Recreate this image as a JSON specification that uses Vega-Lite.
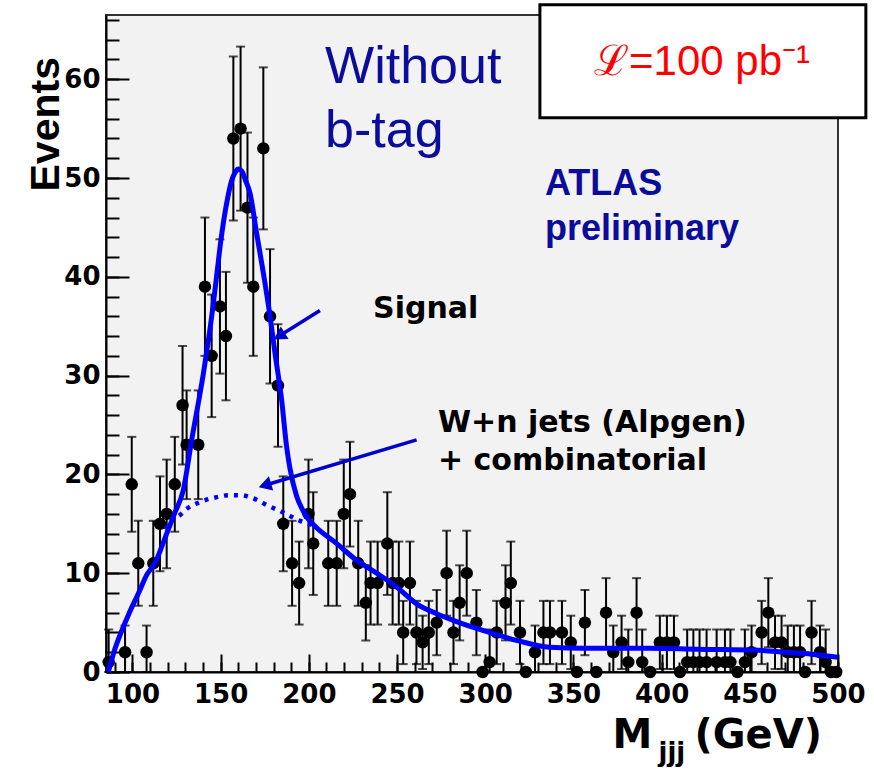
{
  "$schema": "https://vega.github.io/schema/vega-lite/v6.json",
  "width": 732,
  "height": 657,
  "autosize": {"type": "none"},
  "padding": {"left": 106, "top": 15, "right": 36, "bottom": 101},
  "config": {"background": "white", "view": {"fill": "#f2f2f2", "stroke": "#333333", "strokeWidth": 2}},
  "datasets": {
    "pts": [
      {"m":86.5,"n":1,"lo":0,"hi":4.3},{"m":95.8,"n":2,"lo":0,"hi":4.7},{"m":99.6,"n":19,"lo":14.2,"hi":23.8},
      {"m":103.3,"n":11,"lo":6.7,"hi":15.3},{"m":108,"n":2,"lo":0,"hi":4.7},{"m":111.8,"n":11,"lo":6.7,"hi":15.3},
      {"m":115.6,"n":15,"lo":10.2,"hi":19.8},{"m":119.4,"n":16,"lo":10.5,"hi":21.5},{"m":124,"n":19,"lo":14.2,"hi":23.8},
      {"m":128.4,"n":27,"lo":21,"hi":33},{"m":130.7,"n":23,"lo":17.5,"hi":28.5},{"m":137.3,"n":23,"lo":17.5,"hi":28.5},
      {"m":141.1,"n":39,"lo":32,"hi":46},{"m":144.9,"n":32,"lo":25.8,"hi":38.2},{"m":149.6,"n":37,"lo":30.2,"hi":43.8},
      {"m":153,"n":34,"lo":27.5,"hi":40.5},{"m":157.2,"n":54,"lo":45.7,"hi":62.3},{"m":161.3,"n":55,"lo":46.7,"hi":63.3},
      {"m":165.2,"n":47,"lo":39.4,"hi":54.6},{"m":168.5,"n":39,"lo":32,"hi":46},{"m":174.2,"n":53,"lo":44.8,"hi":61.2},
      {"m":178,"n":36,"lo":29.2,"hi":42.8},{"m":182.5,"n":29,"lo":22.8,"hi":35.2},{"m":185.5,"n":15,"lo":10.2,"hi":19.8},
      {"m":190.5,"n":11,"lo":6.7,"hi":15.3},{"m":194.5,"n":9,"lo":4.8,"hi":13.2},{"m":199.8,"n":16,"lo":10.5,"hi":21.5},
      {"m":202.5,"n":13,"lo":7.8,"hi":18.2},{"m":211,"n":11,"lo":6.7,"hi":15.3},{"m":215.8,"n":11,"lo":6.7,"hi":15.3},
      {"m":219.8,"n":16,"lo":10.5,"hi":21.5},{"m":223.3,"n":18,"lo":12.7,"hi":23.3},{"m":228,"n":11,"lo":6.7,"hi":15.3},
      {"m":232.3,"n":7,"lo":3.2,"hi":10.8},{"m":235,"n":9,"lo":4.8,"hi":13.2},{"m":239,"n":9,"lo":4.8,"hi":13.2},
      {"m":244.5,"n":13,"lo":7.8,"hi":18.2},{"m":247.5,"n":9,"lo":4.8,"hi":13.2},{"m":251,"n":9,"lo":4.8,"hi":13.2},
      {"m":253.5,"n":4,"lo":0.8,"hi":7.2},{"m":257.3,"n":9,"lo":4.8,"hi":13.2},{"m":261,"n":4,"lo":0.8,"hi":7.2},
      {"m":264.5,"n":3,"lo":0.3,"hi":5.7},{"m":268,"n":4,"lo":0.8,"hi":7.2},{"m":272.5,"n":5,"lo":1.7,"hi":8.3},
      {"m":278.1,"n":10,"lo":5.7,"hi":14.3},{"m":282,"n":4,"lo":0.8,"hi":7.2},{"m":285.5,"n":7,"lo":3.2,"hi":10.8},
      {"m":289.5,"n":10,"lo":5.7,"hi":14.3},{"m":295,"n":5,"lo":1.7,"hi":8.3},{"m":298.5,"n":0,"lo":null,"hi":null},
      {"m":302.5,"n":1,"lo":0,"hi":4.3},{"m":306.5,"n":4,"lo":0.8,"hi":7.2},{"m":311.5,"n":7,"lo":3.2,"hi":10.8},
      {"m":314.5,"n":9,"lo":4.8,"hi":13.2},{"m":319.7,"n":4,"lo":0.8,"hi":7.2},{"m":323,"n":0,"lo":null,"hi":null},
      {"m":328.2,"n":2,"lo":0,"hi":4.7},{"m":333,"n":4,"lo":0.8,"hi":7.2},{"m":336.7,"n":4,"lo":0.8,"hi":7.2},
      {"m":343.5,"n":4,"lo":0.8,"hi":7.2},{"m":348.5,"n":3,"lo":0.3,"hi":5.7},{"m":352,"n":0,"lo":null,"hi":null},
      {"m":356.5,"n":5,"lo":1.7,"hi":8.3},{"m":363,"n":0,"lo":null,"hi":null},{"m":368.5,"n":6,"lo":2.5,"hi":9.5},
      {"m":372.6,"n":2,"lo":0,"hi":4.7},{"m":377.3,"n":3,"lo":0.3,"hi":5.7},{"m":381.1,"n":1,"lo":0,"hi":4.3},
      {"m":385.8,"n":6,"lo":2.5,"hi":9.5},{"m":389,"n":1,"lo":0,"hi":4.3},{"m":393.5,"n":0,"lo":null,"hi":null},
      {"m":399,"n":3,"lo":0.3,"hi":5.7},{"m":403,"n":3,"lo":0.3,"hi":5.7},{"m":407,"n":3,"lo":0.3,"hi":5.7},
      {"m":410.4,"n":0,"lo":null,"hi":null},{"m":414.5,"n":1,"lo":0,"hi":4.3},{"m":418,"n":1,"lo":0,"hi":4.3},
      {"m":421.5,"n":1,"lo":0,"hi":4.3},{"m":425.5,"n":1,"lo":0,"hi":4.3},{"m":431.2,"n":1,"lo":0,"hi":4.3},
      {"m":435.9,"n":1,"lo":0,"hi":4.3},{"m":439,"n":1,"lo":0,"hi":4.3},{"m":443,"n":0,"lo":null,"hi":null},
      {"m":447.2,"n":1,"lo":0,"hi":4.3},{"m":451,"n":2,"lo":0,"hi":4.7},{"m":456.7,"n":4,"lo":0.8,"hi":7.2},
      {"m":460.5,"n":6,"lo":2.5,"hi":9.5},{"m":464.3,"n":3,"lo":0.3,"hi":5.7},{"m":468,"n":3,"lo":0.3,"hi":5.7},
      {"m":471.5,"n":2,"lo":0,"hi":4.7},{"m":475,"n":2,"lo":0,"hi":4.7},{"m":478.5,"n":2,"lo":0,"hi":4.7},
      {"m":481.3,"n":0,"lo":null,"hi":null},{"m":485,"n":4,"lo":0.8,"hi":7.2},{"m":489.8,"n":2,"lo":0,"hi":4.7},
      {"m":493,"n":1,"lo":0,"hi":4.3},{"m":496,"n":0,"lo":null,"hi":null},{"m":499,"n":0,"lo":null,"hi":null}
    ],
    "fit": [
      {"m":86.3,"v":0},{"m":90,"v":2.3},{"m":94,"v":4.2},{"m":98,"v":5.9},{"m":104,"v":8.2},{"m":108,"v":9.8},
      {"m":113,"v":11.1},{"m":116,"v":12.4},{"m":119.4,"v":14},{"m":124,"v":16.1},{"m":128.8,"v":18.4},
      {"m":133.6,"v":23.5},{"m":140.2,"v":30.2},{"m":143,"v":33.5},{"m":146,"v":37.5},{"m":148,"v":40.5},
      {"m":150,"v":43.5},{"m":152,"v":46},{"m":154,"v":48},{"m":156,"v":49.6},{"m":158,"v":50.5},
      {"m":160,"v":50.9},{"m":162,"v":50.7},{"m":164,"v":49.8},{"m":166.6,"v":48.5},{"m":170.4,"v":44.4},
      {"m":174.2,"v":40.4},{"m":178,"v":36},{"m":180.8,"v":32.3},{"m":184.6,"v":27.5},{"m":187.4,"v":22.8},
      {"m":189.3,"v":20.6},{"m":193.1,"v":17.8},{"m":196.8,"v":16.3},{"m":200,"v":15.4},{"m":204.4,"v":14.6},
      {"m":215.8,"v":13},{"m":227.1,"v":11.3},{"m":238.5,"v":10},{"m":249.8,"v":8.6},{"m":261.1,"v":6.9},
      {"m":272.5,"v":5.9},{"m":283.8,"v":5.1},{"m":298.9,"v":4.2},{"m":317.8,"v":3.2},{"m":336.7,"v":2.5},
      {"m":355.6,"v":2.4},{"m":393.4,"v":2.4},{"m":420,"v":2.3},{"m":455,"v":2.2},{"m":470,"v":2.0},
      {"m":485,"v":1.8},{"m":500,"v":1.5}
    ],
    "bkg": [
      {"m":119,"v":14.4},{"m":121.3,"v":15.2},{"m":127,"v":15.9},{"m":130.7,"v":16.5},{"m":138.3,"v":17.2},
      {"m":147.8,"v":17.7},{"m":155,"v":17.9},{"m":161,"v":17.9},{"m":166.6,"v":17.7},{"m":172,"v":17.3},
      {"m":176.1,"v":16.9},{"m":179.8,"v":16.6},{"m":183.6,"v":16.3},{"m":189.3,"v":15.8},{"m":195,"v":15.3},
      {"m":200,"v":15.0},{"m":204,"v":14.6}
    ],
    "arrows": [
      {"m":206.3,"v":36.6,"m2":183.2,"v2":34.0},
      {"m":261.1,"v":23.5,"m2":175.1,"v2":18.9}
    ],
    "head1": [{"m":183.2,"v":34.0}],
    "head2": [{"m":175.1,"v":18.9}],
    "box": [{"m":331,"m2":515.8,"v":67.55,"v2":56.1}],
    "t_without": [{"m":209.2,"v":59.6,"label":"Without\nb-tag"}],
    "t_atlas": [{"m":333.9,"v":48.3,"label":"ATLAS\npreliminary"}],
    "t_signal": [{"m":236.4,"v":35.8,"label":"Signal"}],
    "t_wjets": [{"m":273.2,"v":24.3,"label":"W+n jets (Alpgen)\n+ combinatorial"}],
    "t_lumi": [{"m":422.9,"v":60.4,"label":"ℒ=100 pb⁻¹"}]
  },
  "resolve": {"axis": {"x": "independent", "y": "independent"}},
  "layer": [
    {
      "data": {"name": "pts"},
      "mark": {"type": "rule", "color": "black", "strokeWidth": 2},
      "encoding": {
        "x": {"field": "m", "type": "quantitative", "scale": {"domain": [85, 500], "nice": false, "zero": false},
          "axis": {"orient": "bottom", "values": [100,150,200,250,300,350,400,450,500], "tickSize": -18, "tickWidth": 2, "tickColor": "black",
            "domainColor": "black", "domainWidth": 2, "grid": false, "labelFont": "DejaVu Sans", "labelFontWeight": "bold", "labelFontSize": 26,
            "labelColor": "black", "labelPadding": 27, "labelFlush": false, "labelOverlap": false,
            "title": "M", "titleFont": "DejaVu Sans", "titleFontWeight": "bold", "titleFontSize": 40, "titleColor": "black",
            "titleX": 506, "titleY": 75, "titleAlign": "left", "titleBaseline": "alphabetic"}},
        "y": {"field": "lo", "type": "quantitative", "scale": {"domain": [0, 66.5], "nice": false, "zero": false},
          "axis": {"orient": "left", "values": [0,10,20,30,40,50,60], "tickSize": -23, "tickWidth": 2, "tickColor": "black",
            "domainColor": "black", "domainWidth": 2, "grid": false, "labelFont": "DejaVu Sans", "labelFontWeight": "bold", "labelFontSize": 26,
            "labelColor": "black", "labelPadding": 29, "labelFlush": false, "labelOverlap": false,
            "title": "Events", "titleFont": "Liberation Sans", "titleFontWeight": "bold", "titleFontSize": 41, "titleColor": "black",
            "titleAngle": 270, "titleX": -48, "titleY": 176, "titleAlign": "left", "titleBaseline": "alphabetic"}},
        "y2": {"field": "hi"}
      }
    },
    {
      "data": {"name": "pts"},
      "mark": {"type": "tick", "orient": "horizontal", "color": "black", "size": 9, "thickness": 2},
      "encoding": {
        "x": {"field": "m", "type": "quantitative", "scale": {"domain": [85, 500], "nice": false, "zero": false},
          "axis": {"orient": "bottom", "values": [90,100,110,120,130,140,150,160,170,180,190,200,210,220,230,240,250,260,270,280,290,300,310,320,330,340,350,360,370,380,390,400,410,420,430,440,450,460,470,480,490,500],
            "tickSize": -10, "tickWidth": 2, "tickColor": "black", "domain": false, "labels": false, "grid": false,
            "title": "jjj", "titleFont": "DejaVu Sans", "titleFontWeight": "bold", "titleFontSize": 26, "titleColor": "black",
            "titleX": 552, "titleY": 88, "titleAlign": "left", "titleBaseline": "alphabetic"}},
        "y": {"field": "lo", "type": "quantitative", "scale": {"domain": [0, 66.5], "nice": false, "zero": false},
          "axis": {"orient": "left", "values": [0,2,4,6,8,10,12,14,16,18,20,22,24,26,28,30,32,34,36,38,40,42,44,46,48,50,52,54,56,58,60,62,64,66],
            "tickSize": -13, "tickWidth": 2, "tickColor": "black", "domain": false, "labels": false, "grid": false, "title": null}}
      }
    },
    {
      "data": {"name": "pts"},
      "mark": {"type": "tick", "orient": "horizontal", "color": "black", "size": 9, "thickness": 2},
      "encoding": {
        "x": {"field": "m", "type": "quantitative", "scale": {"domain": [85, 500], "nice": false, "zero": false},
          "axis": {"orient": "bottom", "ticks": false, "domain": false, "labels": false, "grid": false,
            "title": "(GeV)", "titleFont": "DejaVu Sans", "titleFontWeight": "bold", "titleFontSize": 40, "titleColor": "black",
            "titleX": 588, "titleY": 75, "titleAlign": "left", "titleBaseline": "alphabetic"}},
        "y": {"field": "hi", "type": "quantitative", "scale": {"domain": [0, 66.5], "nice": false, "zero": false}, "axis": null}
      }
    },
    {
      "data": {"name": "pts"},
      "mark": {"type": "point", "shape": "circle", "filled": true, "color": "black", "opacity": 1, "size": 155},
      "encoding": {
        "x": {"field": "m", "type": "quantitative", "scale": {"domain": [85, 500], "nice": false, "zero": false}, "axis": null},
        "y": {"field": "n", "type": "quantitative", "scale": {"domain": [0, 66.5], "nice": false, "zero": false}, "axis": null}
      }
    },
    {
      "data": {"name": "bkg"},
      "mark": {"type": "line", "color": "#0000ff", "strokeWidth": 4.5, "strokeDash": [4, 6], "interpolate": "monotone"},
      "encoding": {
        "x": {"field": "m", "type": "quantitative", "scale": {"domain": [85, 500], "nice": false, "zero": false}, "axis": null},
        "y": {"field": "v", "type": "quantitative", "scale": {"domain": [0, 66.5], "nice": false, "zero": false}, "axis": null}
      }
    },
    {
      "data": {"name": "fit"},
      "mark": {"type": "line", "color": "#0000ff", "strokeWidth": 5, "interpolate": "monotone"},
      "encoding": {
        "x": {"field": "m", "type": "quantitative", "scale": {"domain": [85, 500], "nice": false, "zero": false}, "axis": null},
        "y": {"field": "v", "type": "quantitative", "scale": {"domain": [0, 66.5], "nice": false, "zero": false}, "axis": null}
      }
    },
    {
      "data": {"name": "arrows"},
      "mark": {"type": "rule", "color": "#0000cc", "strokeWidth": 3.5},
      "encoding": {
        "x": {"field": "m", "type": "quantitative", "scale": {"domain": [85, 500], "nice": false, "zero": false}, "axis": null},
        "y": {"field": "v", "type": "quantitative", "scale": {"domain": [0, 66.5], "nice": false, "zero": false}, "axis": null},
        "x2": {"field": "m2"},
        "y2": {"field": "v2"}
      }
    },
    {
      "data": {"name": "head1"},
      "mark": {"type": "point", "shape": "triangle-up", "filled": true, "color": "#0000cc", "opacity": 1, "size": 220, "angle": 238},
      "encoding": {
        "x": {"field": "m", "type": "quantitative", "scale": {"domain": [85, 500], "nice": false, "zero": false}, "axis": null},
        "y": {"field": "v", "type": "quantitative", "scale": {"domain": [0, 66.5], "nice": false, "zero": false}, "axis": null}
      }
    },
    {
      "data": {"name": "head2"},
      "mark": {"type": "point", "shape": "triangle-up", "filled": true, "color": "#0000cc", "opacity": 1, "size": 220, "angle": 253},
      "encoding": {
        "x": {"field": "m", "type": "quantitative", "scale": {"domain": [85, 500], "nice": false, "zero": false}, "axis": null},
        "y": {"field": "v", "type": "quantitative", "scale": {"domain": [0, 66.5], "nice": false, "zero": false}, "axis": null}
      }
    },
    {
      "data": {"name": "box"},
      "mark": {"type": "rect", "fill": "white", "stroke": "black", "strokeWidth": 3},
      "encoding": {
        "x": {"field": "m", "type": "quantitative", "scale": {"domain": [85, 500], "nice": false, "zero": false}, "axis": null},
        "x2": {"field": "m2"},
        "y": {"field": "v", "type": "quantitative", "scale": {"domain": [0, 66.5], "nice": false, "zero": false}, "axis": null},
        "y2": {"field": "v2"}
      }
    },
    {
      "data": {"name": "t_without"},
      "mark": {"type": "text", "font": "Liberation Sans", "fontSize": 52, "color": "#0c0c9a", "align": "left", "baseline": "alphabetic", "lineBreak": "\n", "lineHeight": 64},
      "encoding": {
        "x": {"field": "m", "type": "quantitative", "scale": {"domain": [85, 500], "nice": false, "zero": false}, "axis": null},
        "y": {"field": "v", "type": "quantitative", "scale": {"domain": [0, 66.5], "nice": false, "zero": false}, "axis": null},
        "text": {"field": "label"}
      }
    },
    {
      "data": {"name": "t_atlas"},
      "mark": {"type": "text", "font": "Liberation Sans", "fontWeight": "bold", "fontSize": 36, "color": "#0c0c9a", "align": "left", "baseline": "alphabetic", "lineBreak": "\n", "lineHeight": 45},
      "encoding": {
        "x": {"field": "m", "type": "quantitative", "scale": {"domain": [85, 500], "nice": false, "zero": false}, "axis": null},
        "y": {"field": "v", "type": "quantitative", "scale": {"domain": [0, 66.5], "nice": false, "zero": false}, "axis": null},
        "text": {"field": "label"}
      }
    },
    {
      "data": {"name": "t_signal"},
      "mark": {"type": "text", "font": "DejaVu Sans", "fontWeight": "bold", "fontSize": 30, "color": "black", "align": "left", "baseline": "alphabetic"},
      "encoding": {
        "x": {"field": "m", "type": "quantitative", "scale": {"domain": [85, 500], "nice": false, "zero": false}, "axis": null},
        "y": {"field": "v", "type": "quantitative", "scale": {"domain": [0, 66.5], "nice": false, "zero": false}, "axis": null},
        "text": {"field": "label"}
      }
    },
    {
      "data": {"name": "t_wjets"},
      "mark": {"type": "text", "font": "DejaVu Sans", "fontWeight": "bold", "fontSize": 30, "color": "black", "align": "left", "baseline": "alphabetic", "lineBreak": "\n", "lineHeight": 38},
      "encoding": {
        "x": {"field": "m", "type": "quantitative", "scale": {"domain": [85, 500], "nice": false, "zero": false}, "axis": null},
        "y": {"field": "v", "type": "quantitative", "scale": {"domain": [0, 66.5], "nice": false, "zero": false}, "axis": null},
        "text": {"field": "label"}
      }
    },
    {
      "data": {"name": "t_lumi"},
      "mark": {"type": "text", "font": "Liberation Sans", "fontSize": 42, "color": "#ff0000", "align": "center", "baseline": "alphabetic"},
      "encoding": {
        "x": {"field": "m", "type": "quantitative", "scale": {"domain": [85, 500], "nice": false, "zero": false}, "axis": null},
        "y": {"field": "v", "type": "quantitative", "scale": {"domain": [0, 66.5], "nice": false, "zero": false}, "axis": null},
        "text": {"field": "label"}
      }
    }
  ]
}
